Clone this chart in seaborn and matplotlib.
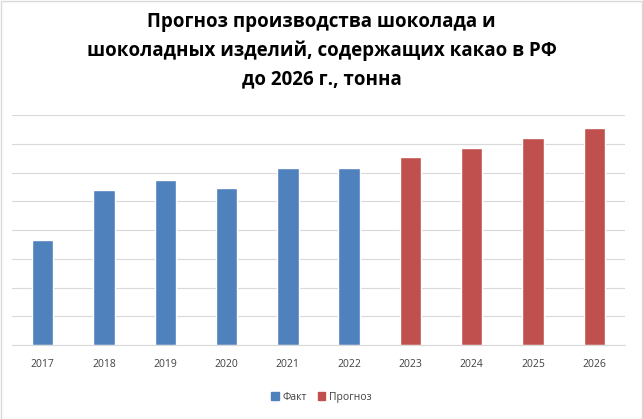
import matplotlib
matplotlib.use("Agg")
import matplotlib.pyplot as plt
import seaborn as sns
import pandas as pd
from matplotlib.patches import Rectangle

years = ["2017","2018","2019","2020","2021","2022","2023","2024","2025","2026"]
values = [3.65, 5.39, 5.74, 5.46, 6.16, 6.16, 6.54, 6.85, 7.2, 7.55]
kinds = ["Факт"]*6 + ["Прогноз"]*4
palette = {"Факт": "#4f81bd", "Прогноз": "#c0504d"}

df = pd.DataFrame({"year": years, "value": values, "kind": kinds})

sns.set_style("white")
plt.rcParams['font.family'] = ['Open Sans', 'DejaVu Sans']

fig = plt.figure(figsize=(6.43, 4.19), dpi=100)
ax = fig.add_axes([12/643, 1-345/419, (625-12)/643, 230/419])
sns.barplot(data=df, x="year", y="value", hue="kind", palette=palette,
            dodge=False, width=0.35, saturation=1, ax=ax, legend=False)
ax.set_ylim(0, 8)
ax.set_xlim(-0.5, 9.5)
ax.set_yticks(range(0, 9))
ax.set_yticklabels([])
ax.tick_params(axis='y', length=0)
ax.tick_params(axis='x', length=0, labelsize=7.5, colors="#404040", pad=10)
ax.grid(axis='y', color="#d9d9d9", linewidth=0.8)
ax.set_axisbelow(True)
for s in ["top", "right", "left"]:
    ax.spines[s].set_visible(False)
ax.spines["bottom"].set_color("#d9d9d9")
ax.set_xlabel("")
ax.set_ylabel("")

fig.text(0.5, 1-12/419, "Прогноз производства шоколада и\nшоколадных изделий, содержащих какао в РФ\nдо 2026 г., тонна",
         ha="center", va="top", fontsize=13.5, fontweight="bold", color="#000000",
         linespacing=1.55)

handles = [Rectangle((0, 0), 1, 1, color=palette[k]) for k in ["Факт", "Прогноз"]]
fig.legend(handles, ["Факт", "Прогноз"], loc="center", bbox_to_anchor=(0.5, 1-397/419),
           ncol=2, frameon=False, fontsize=7.5, handlelength=0.7, handleheight=0.7,
           columnspacing=1.0, handletextpad=0.4, labelcolor="#404040")

fig.patches.append(Rectangle((0.001, 0.001), 0.997, 0.997, transform=fig.transFigure,
                             fill=False, edgecolor="#d9d9d9", linewidth=1))
fig.savefig("out.png", dpi=100)
